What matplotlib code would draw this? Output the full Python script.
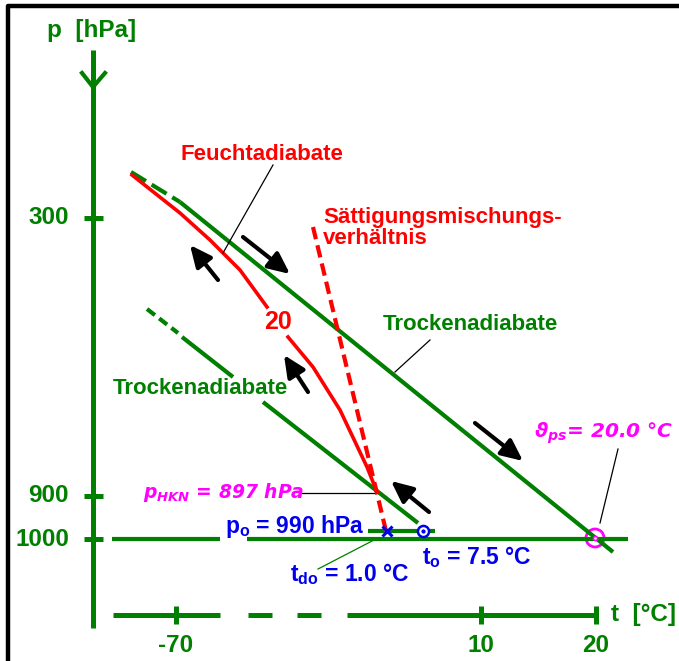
import matplotlib
matplotlib.use("Agg")
import matplotlib.pyplot as plt
from matplotlib.patches import Circle

# italic math in bold italic for the magenta labels
plt.rcParams["mathtext.fontset"] = "custom"
plt.rcParams["mathtext.it"] = "DejaVu Sans:italic:bold"
plt.rcParams["mathtext.rm"] = "Liberation Sans:bold"

# schematic coordinates of the sketch (x to the right, y downwards)
GREEN = "#007f00"
RED = "#ff0000"
BLUE = "#0000ee"
MAGENTA = "#ff00ff"
FONT = "Liberation Sans"

# p axis: ticks and labels
p_ticks = ["300", "900", "1000"]
p_tick_y = [218, 496, 539]
p_axis_x = 93

# t axis: ticks and labels (axis is broken)
t_ticks = ["-70", "10", "20"]
t_tick_x = [176, 481, 596]
t_axis_y = 615
t_axis_solid = [(113, 220), (347, 596)]
t_axis_dash = [(248, 272), (297, 321)]

# upper dry adiabat (theta = 20 C)
dry1_dash = ([131, 180], [172, 202])
dry1_solid = ([180, 613], [202, 552])
# lower dry adiabat through t0
dry2_dash = ([147, 178], [309, 333])
dry2_solid_a = ([182, 233], [337, 377])
dry2_solid_b = ([263, 418], [402, 523])

# moist adiabat (20), two pieces around the label
moist_a = ([132, 180, 210, 240, 267], [175, 213, 240, 270, 307])
moist_b = ([288, 313, 340, 367, 377], [337, 367, 410, 467, 492])

# saturation mixing ratio line
mix_x = [313, 386]
mix_y = [227, 531]

# 1000 hPa line and 990 hPa line
line1000 = [(112, 220), (247, 628)]
line990 = (368, 435)
y990 = 531

# arrows: (tail x, tail y, head x, head y)
arrows = [
    (218, 280, 190, 245),
    (243, 237, 290, 274),
    (308, 392, 284, 355),
    (429, 512, 391, 481),
    (475, 423, 523, 461),
]

fig = plt.figure(figsize=(6.79, 6.61), dpi=100)
ax = fig.add_axes([0, 0, 1, 1])
ax.set_xlim(0, 679)
ax.set_ylim(661, 0)
ax.axis("off")

# frame
ax.plot([8, 8, 679], [661, 6, 6], color="black", lw=3.2, solid_capstyle="butt")

# p axis
ax.plot([p_axis_x, p_axis_x], [50, 628], color=GREEN, lw=3.6, solid_capstyle="butt")
ax.plot([82, p_axis_x, 105], [73, 87, 73], color=GREEN, lw=3.0)
for lab, y in zip(p_ticks, p_tick_y):
    ax.plot([84, 103], [y, y], color=GREEN, lw=3.6, solid_capstyle="butt")
    ax.text(69, y, lab, color=GREEN, fontsize=17.5, fontweight="bold",
            ha="right", va="center", family=FONT)
ax.text(47, 31, "p  [hPa]", color=GREEN, fontsize=17.5, fontweight="bold",
        ha="left", va="center", family=FONT)

# t axis
for x0, x1 in t_axis_solid + t_axis_dash:
    ax.plot([x0, x1], [t_axis_y, t_axis_y], color=GREEN, lw=3.6, solid_capstyle="butt")
for lab, x in zip(t_ticks, t_tick_x):
    ax.plot([x, x], [t_axis_y - 9, t_axis_y + 9], color=GREEN, lw=3.6, solid_capstyle="butt")
    ax.text(x, 645, lab, color=GREEN, fontsize=17.5, fontweight="bold",
            ha="center", va="center", family=FONT)
ax.text(611, 614, "t  [°C]", color=GREEN, fontsize=17.5, fontweight="bold",
        ha="left", va="center", family=FONT)

# pressure lines
for x0, x1 in line1000:
    ax.plot([x0, x1], [539, 539], color=GREEN, lw=3.0, solid_capstyle="butt")
ax.plot(line990, [y990, y990], color=GREEN, lw=3.0, solid_capstyle="butt")

# dry adiabats
ax.plot(*dry1_dash, color=GREEN, lw=3.0, ls=(0, (4.2, 1.6)))
ax.plot(*dry1_solid, color=GREEN, lw=3.0, solid_capstyle="butt")
ax.plot(*dry2_dash, color=GREEN, lw=3.0, ls=(0, (2.4, 1.3)))
ax.plot(*dry2_solid_a, color=GREEN, lw=3.0, solid_capstyle="butt")
ax.plot(*dry2_solid_b, color=GREEN, lw=3.0, solid_capstyle="butt")

# moist adiabat
ax.plot(*moist_a, color=RED, lw=2.6)
ax.plot(*moist_b, color=RED, lw=2.6)
ax.text(278, 322, "20", color=RED, fontsize=18, fontweight="bold",
        ha="center", va="center", family=FONT)

# saturation mixing ratio
ax.plot(mix_x, mix_y, color=RED, lw=3.0, ls=(0, (3.0, 1.5)))

# arrows
for x0, y0, x1, y1 in arrows:
    ax.annotate("", xy=(x1, y1), xytext=(x0, y0),
                arrowprops=dict(arrowstyle="-|>,head_length=1.3,head_width=0.6",
                                color="black", lw=3.0, shrinkA=0, shrinkB=0))

# labels with leaders
ax.text(262, 155, "Feuchtadiabate", color=RED, fontsize=16, fontweight="bold",
        ha="center", va="center", family=FONT)
ax.plot([273, 223], [165, 253], color="black", lw=0.9)

ax.text(323, 228, "Sättigungsmischungs-\nverhältnis", color=RED, fontsize=16,
        fontweight="bold", ha="left", va="center", linespacing=1.05,
        family=FONT)

ax.text(470, 325, "Trockenadiabate", color=GREEN, fontsize=16, fontweight="bold",
        ha="center", va="center", family=FONT)
ax.plot([430, 395], [340, 372], color="black", lw=0.9)
ax.text(200, 388, "Trockenadiabate", color=GREEN, fontsize=16, fontweight="bold",
        ha="center", va="center", family=FONT)

# theta_ps
ax.text(604, 433, r"$\vartheta_{ps}$= 20.0 °C", color=MAGENTA,
        fontsize=14.5, fontweight="bold", style="italic", ha="center", va="center",
        family="DejaVu Sans")
ax.plot([618, 600], [449, 523], color="black", lw=0.9)
ax.add_patch(Circle((595, 538), 9, fill=False, ec=MAGENTA, lw=2.0))
ax.plot([595], [538], "o", ms=3, mfc="white", mec=MAGENTA, mew=1.2)

# p_HKN
ax.text(143, 493, r"$p_{HKN}$ = 897 hPa", color=MAGENTA, fontsize=13.5,
        fontweight="bold", style="italic", ha="left", va="center",
        family="DejaVu Sans")
ax.plot([302, 374], [493, 493], color="black", lw=0.9)

# surface values
ax.text(225, 526, r"p$_\mathregular{o}$ = 990 hPa", color=BLUE, fontsize=16.5,
        fontweight="bold", ha="left", va="center", family=FONT)
ax.plot([387], [531], "x", color=BLUE, ms=7, mew=2.2)
ax.plot([423], [531], "o", ms=8, mfc="white", mec=BLUE, mew=1.8)
ax.plot([423], [531], "o", ms=2, color=BLUE)
ax.text(422, 557, r"t$_\mathregular{o}$ = 7.5 °C", color=BLUE, fontsize=16.5,
        fontweight="bold", ha="left", va="center", family=FONT)
ax.text(290, 574, r"t$_\mathregular{do}$ = 1.0 °C", color=BLUE, fontsize=16.5,
        fontweight="bold", ha="left", va="center", family=FONT)
ax.plot([318, 374], [569, 540], color=GREEN, lw=0.9)

fig.savefig("out.png", dpi=100)
